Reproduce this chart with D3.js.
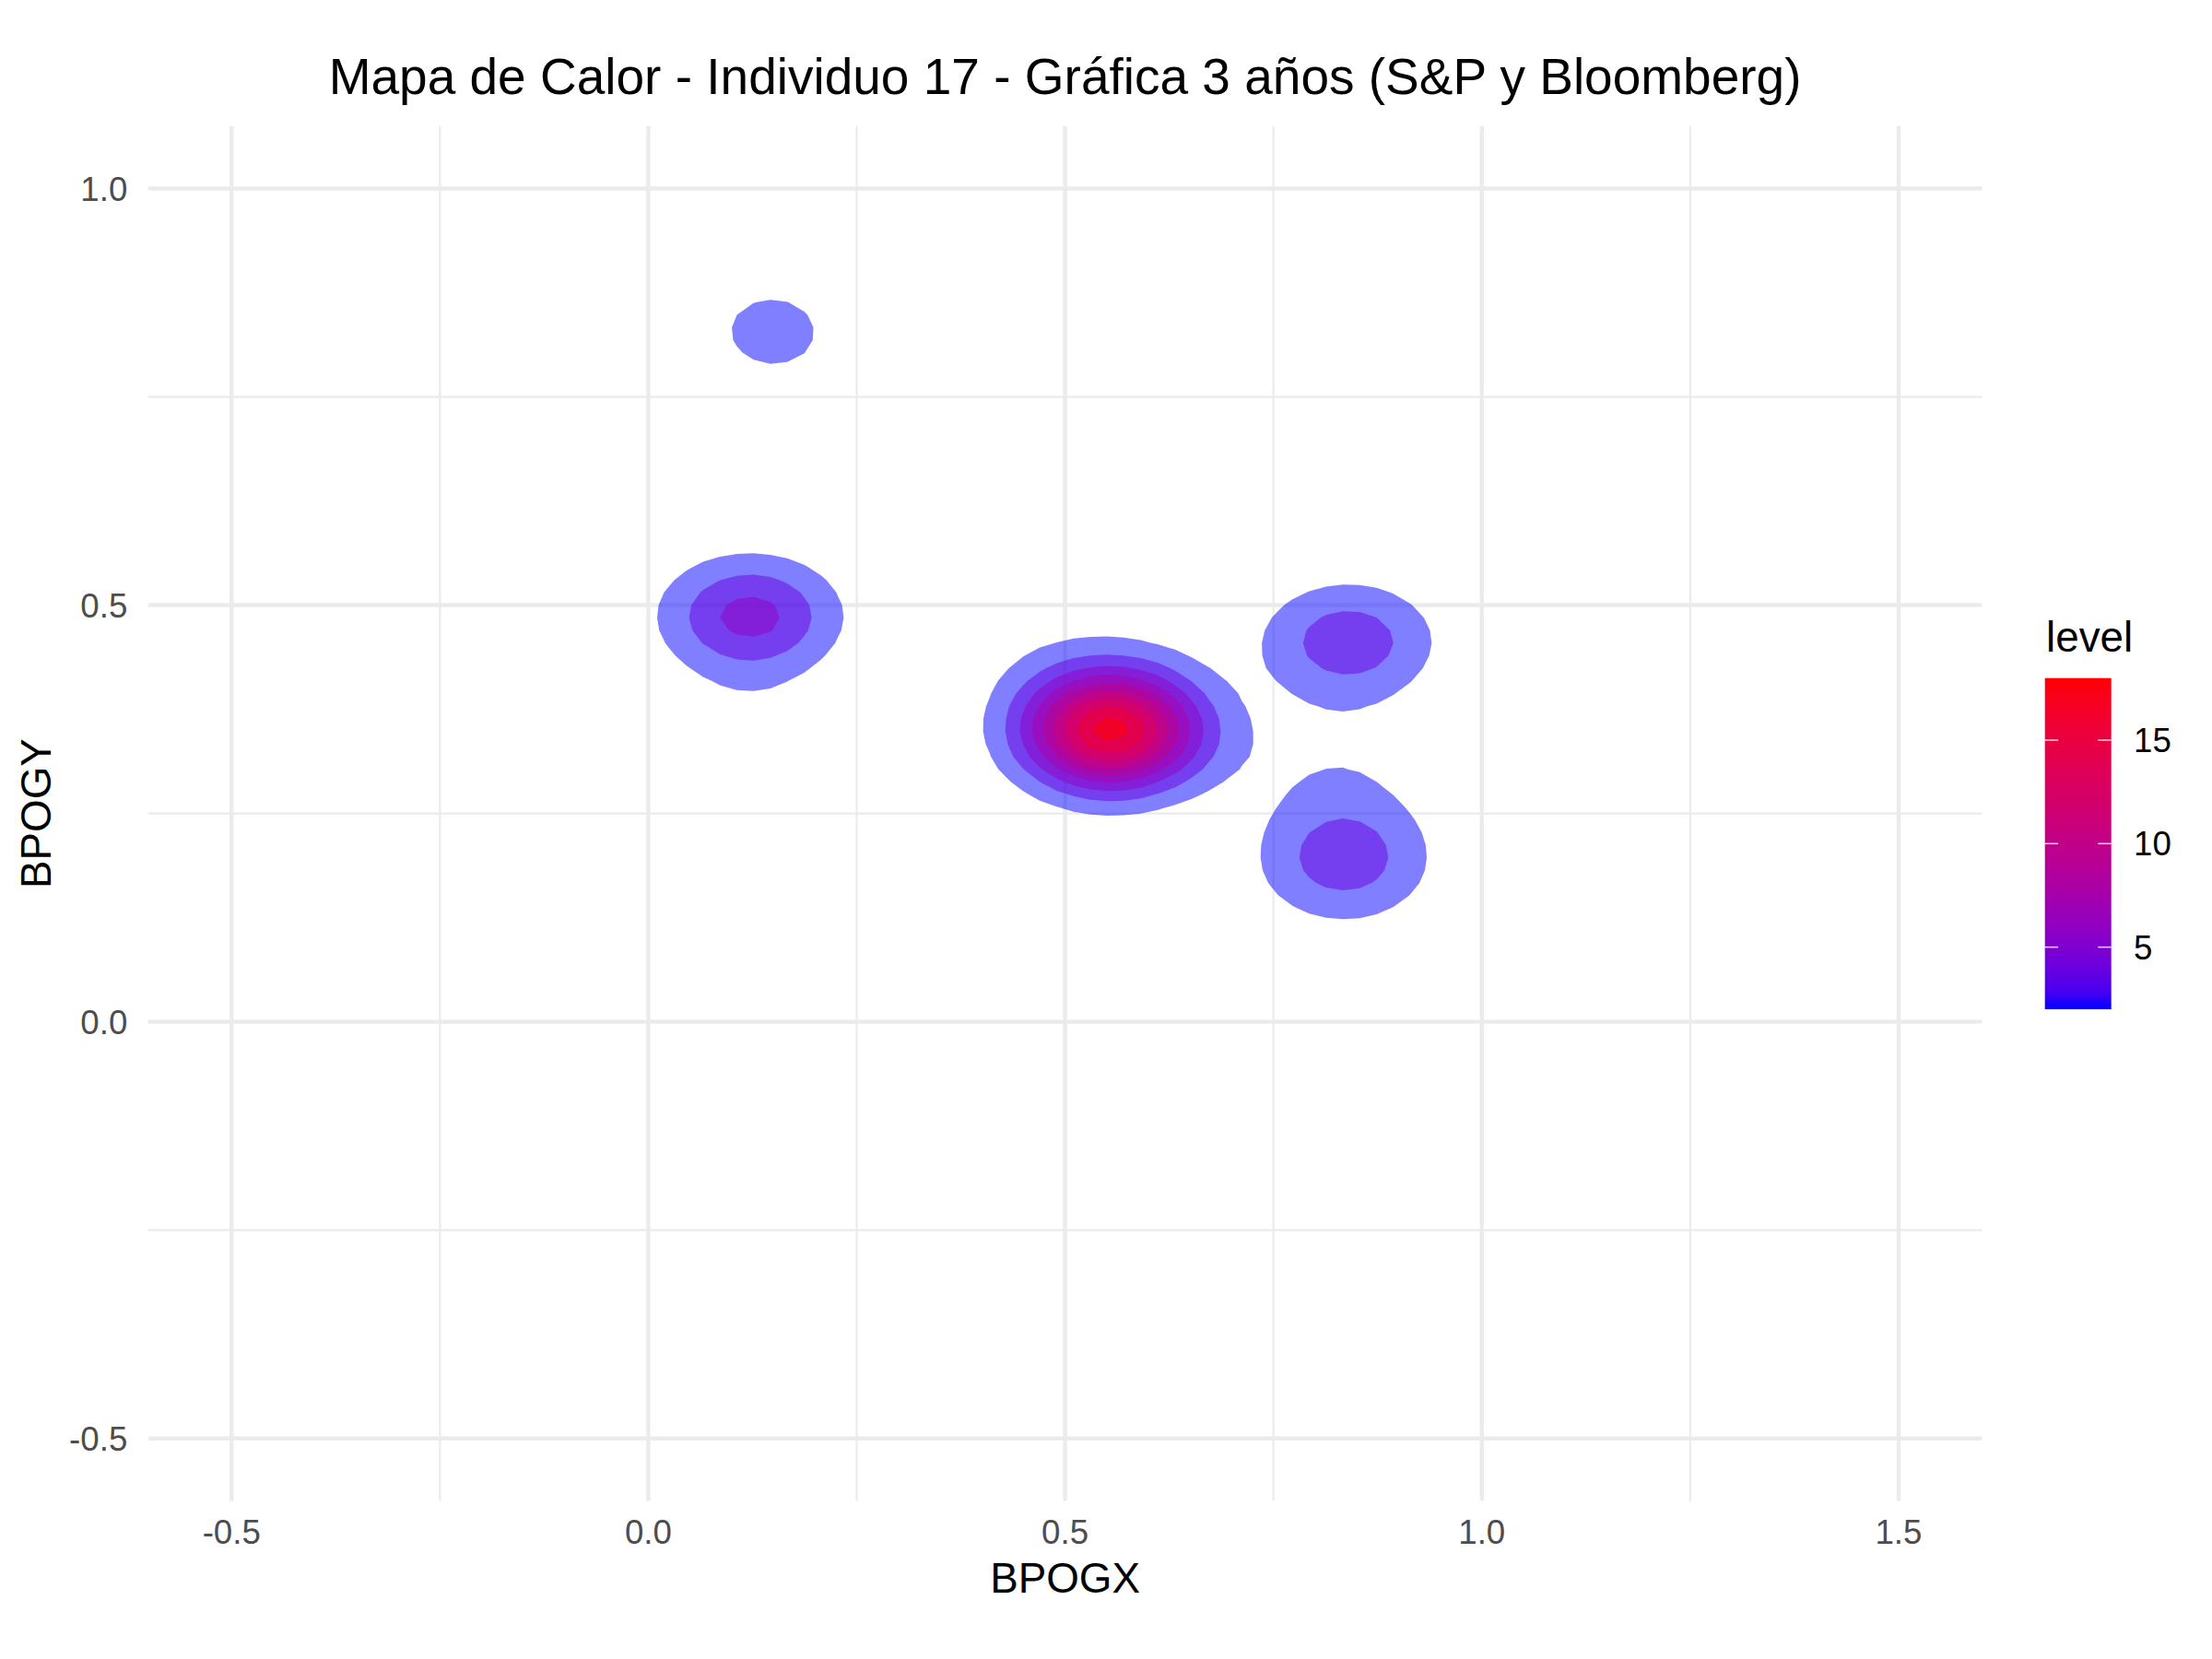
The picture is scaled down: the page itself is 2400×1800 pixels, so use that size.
<!DOCTYPE html>
<html>
<head>
<meta charset="utf-8">
<script src="https://cdn.jsdelivr.net/npm/d3@7"></script>
<style>
  body { margin: 0; background: #ffffff; }
  text { font-family: "Liberation Sans", Arial, Helvetica, sans-serif; }
</style>
</head>
<body>
<svg id="chart" width="2400" height="1800"></svg>
<script>
// ---------------- data ----------------
// gaze fixation clusters: position and number of samples
const fixX     = [0.5545, 0.1224, 0.8400, 0.8380, 0.8345, 0.8345, 0.8420, 0.1470, 0.1520, 0.7250, 0.4700, 0.6000, 0.1200];
const fixY     = [0.3500, 0.4870, 0.4580, 0.3850, 0.2160, 0.1760, 0.3050, 0.8510, 0.8030, 0.3200, 0.4400, 0.4400, 0.3600];
const fixCount = [376,    136,    104,    8,      57,     57,     22,     30,     28,     12,     16,     10,     22];
const totalSamples = 934;          // all samples of the recording
const bandwidthX = 0.284;          // kde2d bandwidths (h)
const bandwidthY = 0.192;
const xLimits = [-0.5, 1.5];
const yLimits = [-0.5, 1.0];
const gridN = 100;
const contourLevels = [2, 4, 6, 8, 10, 12, 14, 16, 18];
const levelRange = [2, 18];
const xMajor = [-0.5, 0.0, 0.5, 1.0, 1.5];
const xMinor = [-0.25, 0.25, 0.75, 1.25];
const yMajor = [-0.5, 0.0, 0.5, 1.0];
const yMinor = [-0.25, 0.25, 0.75];
const legendTicks = [5, 10, 15];
const titleText = "Mapa de Calor - Individuo 17 - Gráfica 3 años (S&P y Bloomberg)";
const xLabel = "BPOGX", yLabel = "BPOGY", legendTitle = "level";

// ---------------- layout ----------------
const svg = d3.select("#chart");
svg.append("rect").attr("width", 2400).attr("height", 1800).attr("fill", "#ffffff");

const panel = { left: 160.8, right: 2150.4, top: 136.7, bottom: 1628.5 };
const x = d3.scaleLinear().domain([-0.6, 1.6]).range([panel.left, panel.right]);
const y = d3.scaleLinear().domain([-0.575, 1.075]).range([panel.bottom, panel.top]);
const fmt = v => d3.format(".1f")(v).replace("\u2212", "-");

const grid = svg.append("g");
const gridColor = "#EBEBEB";
grid.selectAll(".xminor").data(xMinor).enter().append("line")
  .attr("x1", d => x(d)).attr("x2", d => x(d))
  .attr("y1", panel.top).attr("y2", panel.bottom)
  .attr("stroke", gridColor).attr("stroke-width", 2.2);
grid.selectAll(".yminor").data(yMinor).enter().append("line")
  .attr("y1", d => y(d)).attr("y2", d => y(d))
  .attr("x1", panel.left).attr("x2", panel.right)
  .attr("stroke", gridColor).attr("stroke-width", 2.2);
grid.selectAll(".xmajor").data(xMajor).enter().append("line")
  .attr("x1", d => x(d)).attr("x2", d => x(d))
  .attr("y1", panel.top).attr("y2", panel.bottom)
  .attr("stroke", gridColor).attr("stroke-width", 4.4);
grid.selectAll(".ymajor").data(yMajor).enter().append("line")
  .attr("y1", d => y(d)).attr("y2", d => y(d))
  .attr("x1", panel.left).attr("x2", panel.right)
  .attr("stroke", gridColor).attr("stroke-width", 4.4);

// ---------------- 2D kernel density (like MASS::kde2d) ----------------
const sx = bandwidthX / 4, sy = bandwidthY / 4;
const stepX = (xLimits[1] - xLimits[0]) / (gridN - 1);
const stepY = (yLimits[1] - yLimits[0]) / (gridN - 1);
const norm = 1 / (2 * Math.PI * sx * sy * totalSamples);
const values = new Float64Array(gridN * gridN);
for (let j = 0; j < gridN; j++) {
  const gy = yLimits[0] + j * stepY;
  for (let i = 0; i < gridN; i++) {
    const gx = xLimits[0] + i * stepX;
    let s = 0;
    for (let k = 0; k < fixX.length; k++) {
      const u = (gx - fixX[k]) / sx, v = (gy - fixY[k]) / sy;
      s += fixCount[k] * Math.exp(-0.5 * (u * u + v * v));
    }
    values[j * gridN + i] = s * norm;
  }
}
const contours = d3.contours().size([gridN, gridN]).thresholds(contourLevels)(values);

const gridToPx = d3.geoTransform({
  point: function (gxp, gyp) {
    const dx = xLimits[0] + (gxp - 0.5) * stepX;
    const dy = yLimits[0] + (gyp - 0.5) * stepY;
    this.stream.point(x(dx), y(dy));
  }
});
const path = d3.geoPath(gridToPx);
const color = d3.scaleSequential(d3.interpolateLab("blue", "red")).domain(levelRange);

svg.append("g").selectAll("path").data(contours).enter().append("path")
  .attr("d", path)
  .attr("fill", d => color(d.value))
  .attr("fill-opacity", 0.5)
  .attr("stroke", "none");

// ---------------- axes text ----------------
const tickFont = 36.7, titleFont = 45.8;
svg.append("g").selectAll("text").data(xMajor).enter().append("text")
  .attr("x", d => x(d)).attr("y", 1675)
  .attr("text-anchor", "middle").attr("font-size", tickFont).attr("fill", "#4D4D4D")
  .text(fmt);
svg.append("g").selectAll("text").data(yMajor).enter().append("text")
  .attr("x", 138.3).attr("y", d => y(d) + 13.1)
  .attr("text-anchor", "end").attr("font-size", tickFont).attr("fill", "#4D4D4D")
  .text(fmt);

const cx = (panel.left + panel.right) / 2, cy = (panel.top + panel.bottom) / 2;
svg.append("text").attr("x", cx).attr("y", 1728.3)
  .attr("text-anchor", "middle").attr("font-size", titleFont).attr("fill", "#000")
  .text(xLabel);
svg.append("text").attr("transform", `translate(55,${cy}) rotate(-90)`)
  .attr("text-anchor", "middle").attr("font-size", titleFont).attr("fill", "#000")
  .text(yLabel);
svg.append("text").attr("x", cx).attr("y", 101.7)
  .attr("text-anchor", "middle").attr("font-size", 55).attr("fill", "#000")
  .text(titleText);

// ---------------- legend ----------------
const bar = { x: 2218.7, y: 735.7, w: 72, h: 359.3 };
const ly = d3.scaleLinear().domain(levelRange).range([bar.y + bar.h, bar.y]);
const defs = svg.append("defs");
const grad = defs.append("linearGradient").attr("id", "levelGrad")
  .attr("x1", 0).attr("y1", 1).attr("x2", 0).attr("y2", 0);
d3.range(0, 1.0001, 0.05).forEach(t => {
  grad.append("stop").attr("offset", t)
    .attr("stop-color", color(levelRange[0] + t * (levelRange[1] - levelRange[0])));
});
svg.append("rect").attr("x", bar.x).attr("y", bar.y).attr("width", bar.w).attr("height", bar.h)
  .attr("fill", "url(#levelGrad)");
const lt = svg.append("g");
legendTicks.forEach(v => {
  lt.append("line").attr("x1", bar.x).attr("x2", bar.x + bar.w / 5)
    .attr("y1", ly(v)).attr("y2", ly(v)).attr("stroke", "#fff").attr("stroke-opacity", 0.85).attr("stroke-width", 1.5);
  lt.append("line").attr("x1", bar.x + bar.w * 4 / 5).attr("x2", bar.x + bar.w)
    .attr("y1", ly(v)).attr("y2", ly(v)).attr("stroke", "#fff").attr("stroke-opacity", 0.85).attr("stroke-width", 1.5);
  lt.append("text").attr("x", 2315).attr("y", ly(v) + 13.1)
    .attr("font-size", tickFont).attr("fill", "#000").text(v);
});
svg.append("text").attr("x", 2220).attr("y", 707.3)
  .attr("font-size", titleFont).attr("fill", "#000").text(legendTitle);
</script>
</body>
</html>
